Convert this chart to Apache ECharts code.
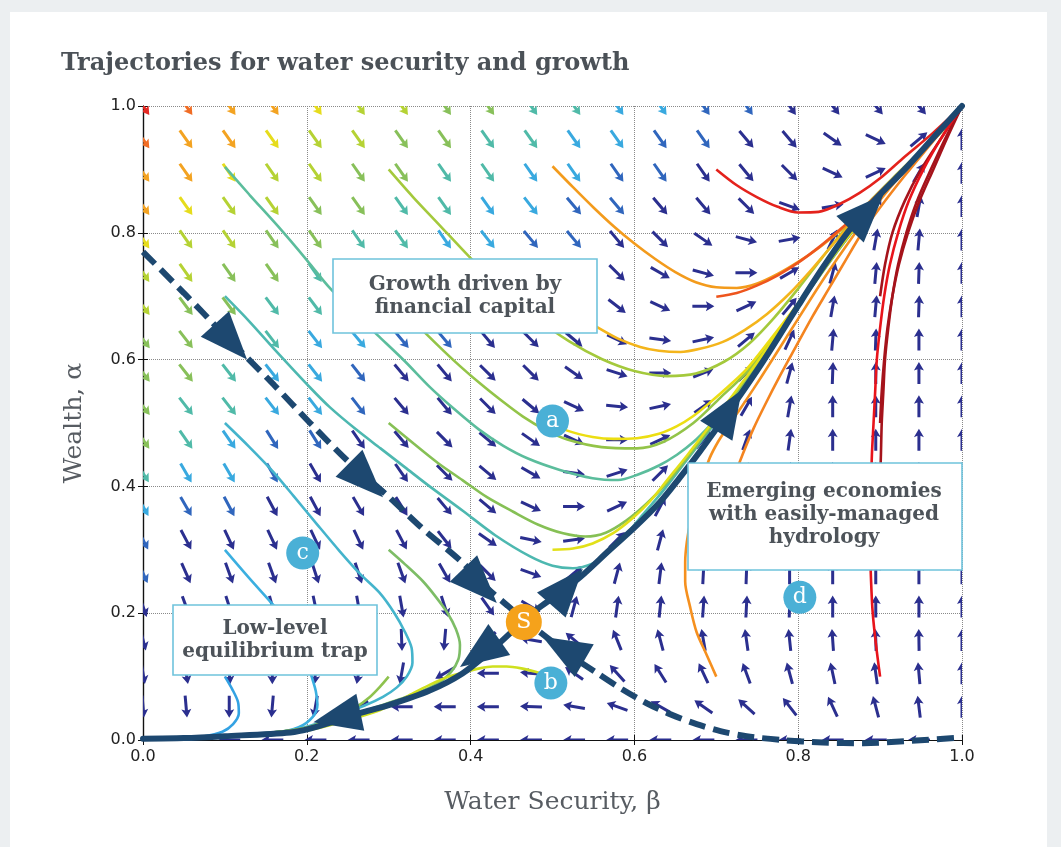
<!DOCTYPE html>
<html><head><meta charset="utf-8">
<script src="https://cdn.jsdelivr.net/npm/echarts@6/dist/echarts.min.js"></script>
<style>html,body{margin:0;padding:0;background:#fff}#c{width:1061px;height:847px}</style>
</head><body><div id="c"></div>
<script>
// ---------- data ----------
const tickValues = [0.0, 0.2, 0.4, 0.6, 0.8, 1.0];
const gridXs = [0,0.0526,0.1053,0.1579,0.2105,0.2632,0.3158,0.3684,0.4211,0.4737,0.5263,0.5789,0.6316,0.6842,0.7368,0.7895,0.8421,0.8947,0.9474,1];
const gridYs = [0,0.0526,0.1053,0.1579,0.2105,0.2632,0.3158,0.3684,0.4211,0.4737,0.5263,0.5789,0.6316,0.6842,0.7368,0.7895,0.8421,0.8947,0.9474,1];
// arrow directions (degrees, screen), rows from top (alpha=1) to bottom (alpha=0)
const angleRows = [
[-55,-55,-55,-55,-55,-55,-55,-55,-55,-55,-55,-55,-55,-55,-55,-55,-52,-50,-50,null],
[-55,-55,-55,-55,-55,-55,-55,-55,-55,-55,-55,-55,-55,-55,-50,-50,-35,-25,40,90],
[-55,-55,-55,-55,-55,-55,-55,-55,-55,-55,-55,-55,-55,-55,-50,-45,-25,25,60,90],
[-55,-55,-55,-55,-55,-55,-55,-55,-55,-52,-50,-50,-50,-50,-45,-20,10,60,80,90],
[-55,-55,-55,-55,-55,-55,-55,-55,-52,-50,-50,-50,-45,-35,-15,10,65,80,85,90],
[-55,-55,-55,-55,-55,-55,-55,-52,-50,-50,-48,-45,-30,-15,0,30,75,85,88,90],
[-53,-53,-53,-53,-53,-53,-52,-50,-48,-45,-42,-38,-25,0,25,50,80,85,88,90],
[-52,-52,-52,-52,-52,-50,-50,-50,-50,-45,-40,-25,-8,12,40,65,85,88,90,90],
[-52,-52,-52,-52,-52,-52,-50,-50,-45,-45,-35,-18,0,22,45,75,88,90,90,90],
[-52,-52,-52,-52,-52,-52,-50,-50,-45,-40,-25,-5,12,35,60,80,90,90,90,90],
[-55,-55,-55,-58,-58,-55,-50,-45,-40,-35,-25,0,25,50,70,82,90,90,90,90],
[-58,-60,-60,-60,-60,-58,-55,-45,-40,-30,-8,18,45,65,80,85,90,90,90,90],
[-60,-60,-62,-62,-62,-60,-58,-50,-40,-25,0,25,62,75,82,87,90,90,90,90],
[-62,-62,-65,-65,-65,-65,-62,-52,-35,-12,8,45,75,82,85,88,90,90,90,90],
[-65,-66,-70,-70,-72,-72,-70,-60,-45,-20,40,75,83,87,88,90,90,90,90,90],
[-70,-70,-72,-75,-78,-80,-80,-72,-55,-30,75,82,84,86,87,88,90,90,90,90],
[-75,-78,-80,-85,-88,-90,-88,-95,-135,170,140,112,105,100,98,96,94,92,91,90],
[-80,-80,-85,-90,-95,-100,-100,-150,180,175,145,132,122,115,110,105,102,98,95,90],
[-85,-85,-90,-95,-100,-150,180,180,180,178,170,160,150,145,138,128,115,105,97,90],
[null,180,180,180,180,180,180,180,180,180,180,180,180,180,180,180,180,180,180,null]
];
// speed class of each arrow (0 = slowest ... 9 = fastest), same layout
const levelRows = [
[9,8,7,7,6,5,5,4,4,3,3,2,2,1,1,0,0,0,0,0],
[8,7,7,6,5,5,4,4,3,3,2,2,1,1,0,0,0,0,0,0],
[7,7,6,5,5,4,4,3,3,2,2,1,1,0,0,0,0,0,0,0],
[7,6,5,5,4,4,3,3,2,2,1,1,0,0,0,0,0,0,0,0],
[6,5,5,4,4,3,3,2,2,1,1,0,0,0,0,0,0,0,0,0],
[5,5,4,4,3,3,2,2,1,1,0,0,0,0,0,0,0,0,0,0],
[5,4,4,3,3,2,2,1,1,0,0,0,0,0,0,0,0,0,0,0],
[4,4,3,3,2,2,1,1,0,0,0,0,0,0,0,0,0,0,0,0],
[4,4,3,2,2,1,0,0,0,0,0,0,0,0,0,0,0,0,0,0],
[4,3,3,2,2,1,0,0,0,0,0,0,0,0,0,0,0,0,0,0],
[4,3,2,1,1,0,0,0,0,0,0,0,0,0,0,0,0,0,0,0],
[3,2,2,1,0,0,0,0,0,0,0,0,0,0,0,0,0,0,0,0],
[2,1,1,0,0,0,0,0,0,0,0,0,0,0,0,0,0,0,0,0],
[1,0,0,0,0,0,0,0,0,0,0,0,0,0,0,0,0,0,0,0],
[1,0,0,0,0,0,0,0,0,0,0,0,0,0,0,0,0,0,0,0],
[0,0,0,0,0,0,0,0,0,0,0,0,0,0,0,0,0,0,0,0],
[0,0,0,0,0,0,0,0,0,0,0,0,0,0,0,0,0,0,0,0],
[0,0,0,0,0,0,0,0,0,0,0,0,0,0,0,0,0,0,0,0],
[0,0,0,0,0,0,0,0,0,0,0,0,0,0,0,0,0,0,0,0],
[0,0,0,0,0,0,0,0,0,0,0,0,0,0,0,0,0,0,0,0]
];

// trajectories [beta, alpha]
const trajC1 = [[0.1,0.904],[0.13,0.86],[0.165,0.81],[0.2,0.757],[0.228,0.713],[0.257,0.675],[0.286,0.639],[0.32,0.597],[0.35,0.557],[0.38,0.522],[0.41,0.49],[0.44,0.464],[0.47,0.444],[0.509,0.426],[0.549,0.413],[0.58,0.41],[0.603,0.418],[0.63,0.433],[0.652,0.45],[0.672,0.47],[0.692,0.496],[0.715,0.53],[0.737,0.568],[0.765,0.62],[0.795,0.675],[0.825,0.73],[0.855,0.783],[0.885,0.832],[0.915,0.877],[0.945,0.92],[0.975,0.96],[1,1]];
const trajC2 = [[0.1,0.7],[0.13,0.66],[0.16,0.617],[0.204,0.556],[0.228,0.525],[0.26,0.49],[0.29,0.46],[0.32,0.43],[0.35,0.4],[0.39,0.362],[0.43,0.323],[0.472,0.29],[0.5,0.275],[0.525,0.271],[0.55,0.279],[0.57,0.297],[0.59,0.324],[0.61,0.355],[0.635,0.393],[0.66,0.435],[0.685,0.477],[0.71,0.52],[0.74,0.573],[0.77,0.628],[0.8,0.688],[0.83,0.748],[0.86,0.8],[0.891,0.848],[0.93,0.9],[0.965,0.95],[1,1]];
const trajC3 = [[0.1,0.5],[0.13,0.462],[0.159,0.423],[0.185,0.383],[0.212,0.341],[0.24,0.298],[0.265,0.262],[0.289,0.232],[0.307,0.2],[0.32,0.17],[0.328,0.145],[0.329,0.122],[0.322,0.1],[0.31,0.083],[0.293,0.068],[0.27,0.054],[0.24,0.04],[0.21,0.025],[0.18,0.015],[0.13,0.009],[0.08,0.005],[0,0.002]];
const trajC4 = [[0.1,0.3],[0.13,0.255],[0.159,0.213],[0.18,0.18],[0.194,0.15],[0.202,0.122],[0.206,0.1],[0.211,0.077],[0.213,0.056],[0.207,0.036],[0.19,0.02],[0.16,0.011],[0.11,0.006],[0.05,0.003],[0,0.001]];
const trajC5 = [[0.1,0.1],[0.109,0.08],[0.116,0.06],[0.117,0.042],[0.11,0.025],[0.097,0.013],[0.075,0.006],[0.04,0.003],[0,0.001]];
const trajG1 = [[0.3,0.9],[0.33,0.856],[0.36,0.815],[0.4,0.76],[0.44,0.71],[0.48,0.666],[0.52,0.629],[0.56,0.601],[0.6,0.582],[0.64,0.574],[0.675,0.578],[0.71,0.597],[0.74,0.625],[0.77,0.665],[0.8,0.712],[0.83,0.762],[0.86,0.81],[0.89,0.853],[0.92,0.892],[0.95,0.93],[0.975,0.962],[1,1]];
const trajG2 = [[0.3,0.7],[0.325,0.668],[0.347,0.639],[0.38,0.598],[0.411,0.563],[0.44,0.533],[0.464,0.51],[0.49,0.49],[0.518,0.474],[0.56,0.462],[0.603,0.46],[0.635,0.47],[0.672,0.5],[0.705,0.54],[0.737,0.58],[0.765,0.625],[0.795,0.677],[0.825,0.73],[0.855,0.783],[0.885,0.832],[0.915,0.877],[0.945,0.92],[0.975,0.96],[1,1]];
const trajG3 = [[0.3,0.5],[0.33,0.468],[0.36,0.437],[0.39,0.41],[0.42,0.383],[0.452,0.36],[0.482,0.34],[0.513,0.326],[0.54,0.321],[0.565,0.327],[0.59,0.346],[0.615,0.373],[0.64,0.406],[0.665,0.446],[0.69,0.488],[0.715,0.531],[0.745,0.583],[0.775,0.639],[0.805,0.696],[0.835,0.75],[0.865,0.8],[0.895,0.85],[0.93,0.9],[0.965,0.95],[1,1]];
const trajG4 = [[0.3,0.3],[0.32,0.277],[0.342,0.25],[0.358,0.225],[0.372,0.2],[0.382,0.175],[0.387,0.15],[0.385,0.127],[0.376,0.107],[0.362,0.091],[0.342,0.078],[0.315,0.065],[0.285,0.052],[0.255,0.039],[0.22,0.025],[0.18,0.015],[0.12,0.008],[0.06,0.004],[0,0.002]];
const trajG5 = [[0.3,0.1],[0.29,0.085],[0.277,0.068],[0.26,0.052],[0.235,0.036],[0.204,0.021],[0.16,0.012],[0.1,0.006],[0,0.002]];
const trajY1 = [[0.5,0.905],[0.525,0.872],[0.55,0.84],[0.575,0.81],[0.6,0.783],[0.625,0.759],[0.65,0.738],[0.675,0.722],[0.7,0.714],[0.725,0.713],[0.75,0.72],[0.775,0.735],[0.8,0.754],[0.825,0.776],[0.85,0.802],[0.875,0.83],[0.9,0.862],[0.93,0.9],[0.965,0.95],[1,1]];
const trajY2 = [[0.5,0.7],[0.52,0.68],[0.54,0.663],[0.556,0.65],[0.58,0.633],[0.607,0.62],[0.63,0.614],[0.656,0.612],[0.68,0.617],[0.708,0.628],[0.735,0.647],[0.762,0.672],[0.79,0.705],[0.815,0.74],[0.84,0.778],[0.865,0.815],[0.9,0.862],[0.93,0.9],[0.965,0.95],[1,1]];
const trajY3 = [[0.5,0.5],[0.518,0.488],[0.549,0.478],[0.575,0.475],[0.603,0.476],[0.63,0.483],[0.652,0.495],[0.672,0.511],[0.692,0.532],[0.715,0.558],[0.737,0.585],[0.765,0.63],[0.795,0.68],[0.825,0.732],[0.855,0.785],[0.885,0.833],[0.915,0.877],[0.945,0.92],[0.975,0.96],[1,1]];
const trajY4 = [[0.5,0.3],[0.525,0.302],[0.549,0.31],[0.575,0.327],[0.598,0.35],[0.62,0.378],[0.64,0.41],[0.665,0.45],[0.69,0.492],[0.715,0.535],[0.745,0.587],[0.775,0.642],[0.805,0.698],[0.835,0.752],[0.865,0.802],[0.895,0.851],[0.93,0.9],[0.965,0.95],[1,1]];
const trajY5 = [[0.5,0.1],[0.481,0.107],[0.462,0.113],[0.444,0.116],[0.427,0.116],[0.411,0.113],[0.39,0.106],[0.371,0.099],[0.35,0.087],[0.33,0.074],[0.31,0.06],[0.289,0.047],[0.26,0.035],[0.23,0.024],[0.2,0.015],[0.15,0.009],[0.1,0.005],[0.05,0.002],[0,0.001]];
const trajR1 = [[0.7,0.9],[0.725,0.875],[0.75,0.856],[0.775,0.841],[0.8,0.832],[0.825,0.833],[0.85,0.845],[0.875,0.863],[0.9,0.886],[0.93,0.92],[0.965,0.958],[1,1]];
const trajR2 = [[0.7,0.699],[0.725,0.705],[0.75,0.717],[0.775,0.733],[0.8,0.753],[0.825,0.777],[0.85,0.804],[0.875,0.833],[0.9,0.865],[0.93,0.903],[0.965,0.95],[1,1]];
const trajR3 = [[0.7,0.3],[0.706,0.34],[0.714,0.38],[0.722,0.415],[0.732,0.45],[0.745,0.49],[0.76,0.53],[0.778,0.575],[0.797,0.62],[0.817,0.667],[0.838,0.713],[0.858,0.757],[0.878,0.8],[0.9,0.84],[0.93,0.89],[0.965,0.945],[1,1]];
const trajR4 = [[0.7,0.1],[0.688,0.135],[0.676,0.17],[0.668,0.21],[0.662,0.25],[0.662,0.28],[0.664,0.312],[0.669,0.348],[0.676,0.382],[0.684,0.415],[0.692,0.445],[0.702,0.47],[0.713,0.492],[0.728,0.52],[0.745,0.553],[0.765,0.593],[0.787,0.638],[0.81,0.685],[0.835,0.735],[0.86,0.782],[0.887,0.83],[0.92,0.883],[0.96,0.94],[1,1]];
const trajD1 = [[0.9,0.1],[0.895,0.15],[0.891,0.2],[0.889,0.25],[0.888,0.3],[0.888,0.35],[0.889,0.4],[0.89,0.45],[0.892,0.5],[0.894,0.55],[0.896,0.6],[0.9,0.65],[0.905,0.7],[0.912,0.75],[0.922,0.8],[0.935,0.85],[0.953,0.9],[0.975,0.95],[1,1]];
const trajD2 = [[0.9,0.3],[0.9,0.35],[0.9,0.4],[0.901,0.45],[0.902,0.5],[0.904,0.55],[0.906,0.6],[0.91,0.65],[0.915,0.7],[0.922,0.75],[0.932,0.8],[0.945,0.85],[0.962,0.9],[0.98,0.95],[1,1]];
const trajD3 = [[0.9,0.5],[0.902,0.55],[0.905,0.6],[0.909,0.65],[0.915,0.7],[0.923,0.75],[0.934,0.8],[0.948,0.85],[0.965,0.9],[0.982,0.95],[1,1]];
const trajD4 = [[0.9,0.7],[0.906,0.75],[0.915,0.8],[0.93,0.85],[0.95,0.9],[0.975,0.95],[1,1]];

// separatrices
const unstableUpper = [[0.465,0.19],[0.485,0.21],[0.51,0.233],[0.534,0.257],[0.57,0.3],[0.6,0.335],[0.631,0.375],[0.655,0.413],[0.68,0.455],[0.72,0.527],[0.757,0.597],[0.8,0.685],[0.83,0.745],[0.86,0.8],[0.891,0.848],[0.93,0.9],[0.965,0.95],[1,1]];
const unstableLower = [[0.465,0.19],[0.452,0.173],[0.424,0.14],[0.39,0.105],[0.35,0.078],[0.3,0.055],[0.269,0.044],[0.235,0.03],[0.204,0.018],[0.18,0.012],[0.1,0.006],[0.05,0.003],[0,0.002]];
const stableManifold = [[0,0.77],[0.05,0.705],[0.1,0.638],[0.127,0.603],[0.16,0.56],[0.204,0.5],[0.25,0.44],[0.298,0.386],[0.34,0.335],[0.39,0.28],[0.42,0.24],[0.445,0.212],[0.465,0.19],[0.493,0.162],[0.52,0.135],[0.554,0.106],[0.585,0.08],[0.615,0.058],[0.645,0.04],[0.676,0.025],[0.705,0.014],[0.737,0.006],[0.78,0.0],[0.83,-0.004],[0.88,-0.005],[0.93,-0.002],[1,0.004]];
// big arrowheads: tip beta, tip alpha, pointing direction (deg)
const bigHeads = [[0.127,0.6,-48],[0.293,0.383,-45],[0.432,0.216,-46],[0.537,0.27,49],[0.387,0.115,-145],[0.488,0.163,150],[0.208,0.028,-168],[0.731,0.552,58],[0.904,0.86,46]];
// labelled points
const labelPts = [['a',0.5,0.503],['b',0.498,0.09],['c',0.195,0.295],['d',0.802,0.225]];
const saddlePt = [['S',0.465,0.186]];

// ---------- styles ----------
const palette = ['#2b2f8f','#3066bd','#39a9df','#50baa8','#88c05a','#b5d234','#e6dc1c','#f3a322','#f06d25','#e42a24'];
const trajList = [
  [trajC1,'#5bbd9c'],[trajC2,'#4db8b0'],[trajC3,'#44b4cc'],[trajC4,'#3bafe0'],[trajC5,'#33a2e3'],
  [trajG1,'#a4c93c'],[trajG2,'#93c448'],[trajG3,'#86c055'],[trajG4,'#7dbd66'],[trajG5,'#8ec24e'],
  [trajY5,'#cfe01e'],[trajY4,'#e2e018'],[trajY3,'#ecde12'],[trajY2,'#f4b51b'],[trajY1,'#f39b1c'],
  [trajR4,'#f5901f'],[trajR3,'#f4841f'],[trajR2,'#ee551d'],[trajR1,'#e4221c'],
  [trajD2,'#a5131b'],[trajD3,'#a5131b'],[trajD4,'#a5131b'],[trajD1,'#e8141b']
];
const NAVY = '#1d4870';
const SERIF = '"DejaVu Serif", "Liberation Serif", serif';

const quiverData = [];
for (let r = 0; r < angleRows.length; r++) {
  for (let i = 0; i < gridXs.length; i++) {
    const a = angleRows[r][i];
    if (a === null) continue;
    quiverData.push([gridXs[i], gridYs[gridYs.length - 1 - r], a, levelRows[r][i]]);
  }
}

function xform(c, th, pts) {
  const ux = Math.cos(th), uy = -Math.sin(th);
  const vx = -uy, vy = ux;
  return pts.map(p => [c[0] + p[0]*ux + p[1]*vx, c[1] + p[0]*uy + p[1]*vy]);
}

const series = [];
series.push({
  type: 'custom', name: 'field', z: 2, clip: true,
  data: quiverData,
  renderItem: function (params, api) {
    const c = api.coord([api.value(0), api.value(1)]);
    const th = api.value(2) * Math.PI / 180;
    const L = 22, hw = 1.5, HW = 5, hl = 8.5, ha = 7.2;
    const pts = [[-L/2,-hw],[L/2-ha,-hw],[L/2-hl,-HW],[L/2,0],[L/2-hl,HW],[L/2-ha,hw],[-L/2,hw]];
    return { type: 'polygon', shape: { points: xform(c, th, pts) }, style: { fill: palette[api.value(3)] } };
  }
});
trajList.forEach(function (t) {
  series.push({ type: 'line', data: t[0], z: 3, showSymbol: false, smooth: 0.3, clip: false,
    lineStyle: { color: t[1], width: 2.6 }, silent: true });
});
series.push({ type: 'line', data: stableManifold, z: 4, showSymbol: false, smooth: 0.3, clip: false,
  lineStyle: { color: NAVY, width: 6, type: [17, 8] }, silent: true });
series.push({ type: 'line', data: unstableUpper, z: 4, showSymbol: false, smooth: 0.3, clip: false,
  lineStyle: { color: NAVY, width: 6, cap: 'round' }, silent: true });
series.push({ type: 'line', data: unstableLower, z: 4, showSymbol: false, smooth: 0.3, clip: false,
  lineStyle: { color: NAVY, width: 6, cap: 'round' }, silent: true });
series.push({
  type: 'custom', name: 'heads', z: 5, clip: false, data: bigHeads,
  renderItem: function (params, api) {
    const c = api.coord([api.value(0), api.value(1)]);
    const th = api.value(2) * Math.PI / 180;
    const pts = [[0,0],[-48,-19],[-48,19]];
    return { type: 'polygon', shape: { points: xform(c, th, pts) }, style: { fill: NAVY } };
  }
});
series.push({
  type: 'scatter', z: 6, symbolSize: 33, data: labelPts.map(p => ({ name: p[0], value: [p[1], p[2]] })),
  itemStyle: { color: '#4ab0d6', opacity: 1 },
  label: { show: true, position: 'inside', formatter: '{b}', color: '#fff', fontFamily: SERIF, fontSize: 22 }
});
series.push({
  type: 'scatter', z: 6, symbolSize: 36, data: saddlePt.map(p => ({ name: p[0], value: [p[1], p[2]] })),
  itemStyle: { color: '#f5a21b', opacity: 1 },
  label: { show: true, position: 'inside', formatter: '{b}', color: '#fff', fontFamily: SERIF, fontSize: 22 }
});

function box(x, y, w, h, text, cx, cy) {
  return [
    { type: 'rect', z: 20, shape: { x: x, y: y, width: w, height: h },
      style: { fill: '#ffffff', stroke: '#6fc3dc', lineWidth: 1.6 } },
    { type: 'text', z: 21, x: cx, y: cy,
      style: { text: text, fill: '#4d5359', font: 'bold 20px ' + SERIF, align: 'center', verticalAlign: 'middle', lineHeight: 23 } }
  ];
}

const axisCommon = {
  type: 'value', min: 0, max: 1, interval: 0.2,
  axisLine: { show: true, lineStyle: { color: '#111', width: 1.2 } },
  axisTick: { show: true, inside: true, length: 5, lineStyle: { color: '#111' } }
};

const option = {
  backgroundColor: '#ffffff',
  animation: false,
  title: { text: 'Trajectories for water security and growth', left: 56, top: 47,
    textStyle: { fontFamily: SERIF, fontWeight: 'bold', fontSize: 24, color: '#4b5157' } },
  grid: { left: 143, right: 99, top: 106, bottom: 107 },
  xAxis: [
    Object.assign({}, axisCommon, { position: 'bottom',
      axisLabel: { formatter: v => v.toFixed(1), fontFamily: '"DejaVu Sans", sans-serif', fontSize: 16, color: '#222', margin: 9 },
      splitLine: { show: true, lineStyle: { type: 'dotted', color: '#8a8a8a', width: 1 } },
      name: 'Water Security, β', nameLocation: 'middle', nameGap: 50,
      nameTextStyle: { fontFamily: SERIF, fontSize: 25, color: '#575c62' } }),
    Object.assign({}, axisCommon, { position: 'top', axisLabel: { show: false }, splitLine: { show: false } })
  ],
  yAxis: [
    Object.assign({}, axisCommon, { position: 'left',
      axisLabel: { formatter: v => v.toFixed(1), fontFamily: '"DejaVu Sans", sans-serif', fontSize: 16, color: '#222', margin: 7 },
      splitLine: { show: true, lineStyle: { type: 'dotted', color: '#8a8a8a', width: 1 } },
      name: 'Wealth, α', nameLocation: 'middle', nameGap: 56, nameRotate: 90,
      nameTextStyle: { fontFamily: SERIF, fontSize: 25, color: '#575c62' } }),
    Object.assign({}, axisCommon, { position: 'right', axisLabel: { show: false }, splitLine: { show: false } })
  ],
  graphic: [
    { type: 'rect', z: 0, shape: { x: 0, y: 0, width: 1061, height: 12 }, style: { fill: '#eceff1' } },
    { type: 'rect', z: 0, shape: { x: 0, y: 0, width: 10, height: 847 }, style: { fill: '#eceff1' } },
    { type: 'rect', z: 0, shape: { x: 1047, y: 0, width: 14, height: 847 }, style: { fill: '#eceff1' } }
  ].concat(
    box(333, 259, 264, 74, 'Growth driven by\nfinancial capital', 465, 296),
    box(173, 605, 204, 70, 'Low-level\nequilibrium trap', 275, 640),
    box(688, 463, 274, 107, 'Emerging economies\nwith easily-managed\nhydrology', 824, 515)
  ),
  series: series
};
option.series.forEach(s => { s.xAxisIndex = 0; s.yAxisIndex = 0; });

const chart = echarts.init(document.getElementById('c'), null, { renderer: 'canvas' });
chart.setOption(option);
</script>
</body></html>
